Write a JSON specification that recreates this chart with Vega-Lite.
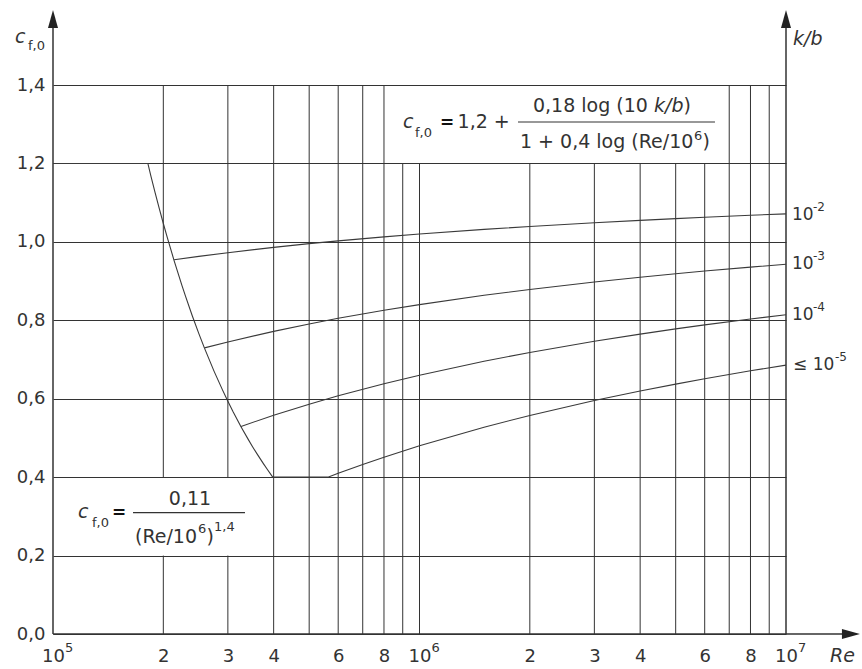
{
  "$schema": "https://vega.github.io/schema/vega-lite/v6.json",
  "width": 733,
  "height": 549,
  "autosize": {"type": "none"},
  "padding": {"left": 53, "top": 85, "right": 76, "bottom": 35},
  "background": "white",
  "config": {
    "view": {"stroke": null},
    "font": "DejaVu Sans",
    "text": {"font": "DejaVu Sans", "color": "#333"}
  },
  "datasets": {
    "vgrid": [
      {"Re": 200000, "lo": 0, "hi": 0.2}, {"Re": 200000, "lo": 0.4, "hi": 1.4},
      {"Re": 300000, "lo": 0, "hi": 0.2}, {"Re": 300000, "lo": 0.4, "hi": 1.4},
      {"Re": 400000, "lo": 0, "hi": 1.4}, {"Re": 500000, "lo": 0, "hi": 1.4},
      {"Re": 600000, "lo": 0, "hi": 1.4}, {"Re": 700000, "lo": 0, "hi": 1.4},
      {"Re": 800000, "lo": 0, "hi": 1.4}, {"Re": 900000, "lo": 0, "hi": 1.2},
      {"Re": 1000000, "lo": 0, "hi": 1.2}, {"Re": 2000000, "lo": 0, "hi": 1.2},
      {"Re": 3000000, "lo": 0, "hi": 1.2}, {"Re": 4000000, "lo": 0, "hi": 1.2},
      {"Re": 5000000, "lo": 0, "hi": 1.2}, {"Re": 6000000, "lo": 0, "hi": 1.2},
      {"Re": 7000000, "lo": 0, "hi": 1.4}, {"Re": 8000000, "lo": 0, "hi": 1.4},
      {"Re": 9000000, "lo": 0, "hi": 1.4}
    ],
    "axv": [
      {"Re": 100000, "lo": 0, "hi": 1.55},
      {"Re": 10000000, "lo": 0, "hi": 1.55}
    ],
    "axh": [{"Re": 100000, "Re2": 14490000, "cf": 0}],
    "arrowUp": [{"Re": 100000, "cf": 1.5657}, {"Re": 10000000, "cf": 1.5657}],
    "arrowRight": [{"Re": 14946000, "cf": 0}],
    "curves": [
      {"s": "base", "Re": 100000, "cf": 1.2},
      {"s": "base", "Re": 181500, "cf": 1.2},
      {"s": "base", "Re": 185000, "cf": 1.1678},
      {"s": "base", "Re": 190000, "cf": 1.125},
      {"s": "base", "Re": 195000, "cf": 1.0848},
      {"s": "base", "Re": 200000, "cf": 1.0468},
      {"s": "base", "Re": 205000, "cf": 1.0115},
      {"s": "base", "Re": 214000, "cf": 0.9523},
      {"s": "base", "Re": 225000, "cf": 0.8879},
      {"s": "base", "Re": 230000, "cf": 0.8609},
      {"s": "base", "Re": 240000, "cf": 0.811},
      {"s": "base", "Re": 250000, "cf": 0.766},
      {"s": "base", "Re": 259000, "cf": 0.7289},
      {"s": "base", "Re": 275000, "cf": 0.6704},
      {"s": "base", "Re": 290000, "cf": 0.6225},
      {"s": "base", "Re": 300000, "cf": 0.5935},
      {"s": "base", "Re": 310000, "cf": 0.5668},
      {"s": "base", "Re": 325800, "cf": 0.5286},
      {"s": "base", "Re": 340000, "cf": 0.4982},
      {"s": "base", "Re": 350000, "cf": 0.4783},
      {"s": "base", "Re": 360000, "cf": 0.4599},
      {"s": "base", "Re": 375000, "cf": 0.4344},
      {"s": "base", "Re": 385000, "cf": 0.4187},
      {"s": "base", "Re": 397700, "cf": 0.4},
      {"s": "base", "Re": 562300, "cf": 0.4},
      {"s": "k2", "Re": 214000, "cf": 0.9542},
      {"s": "k2", "Re": 250000, "cf": 0.9629},
      {"s": "k2", "Re": 300000, "cf": 0.9724},
      {"s": "k2", "Re": 400000, "cf": 0.9859},
      {"s": "k2", "Re": 500000, "cf": 0.9954},
      {"s": "k2", "Re": 600000, "cf": 1.0025},
      {"s": "k2", "Re": 800000, "cf": 1.0127},
      {"s": "k2", "Re": 1000000, "cf": 1.02},
      {"s": "k2", "Re": 1500000, "cf": 1.0318},
      {"s": "k2", "Re": 2000000, "cf": 1.0393},
      {"s": "k2", "Re": 3000000, "cf": 1.0488},
      {"s": "k2", "Re": 4000000, "cf": 1.0549},
      {"s": "k2", "Re": 5000000, "cf": 1.0593},
      {"s": "k2", "Re": 6000000, "cf": 1.0627},
      {"s": "k2", "Re": 8000000, "cf": 1.0678},
      {"s": "k2", "Re": 10000000, "cf": 1.0714},
      {"s": "k3", "Re": 259000, "cf": 0.7296},
      {"s": "k3", "Re": 300000, "cf": 0.7448},
      {"s": "k3", "Re": 400000, "cf": 0.7718},
      {"s": "k3", "Re": 500000, "cf": 0.7907},
      {"s": "k3", "Re": 600000, "cf": 0.805},
      {"s": "k3", "Re": 800000, "cf": 0.8255},
      {"s": "k3", "Re": 1000000, "cf": 0.84},
      {"s": "k3", "Re": 1500000, "cf": 0.8637},
      {"s": "k3", "Re": 2000000, "cf": 0.8787},
      {"s": "k3", "Re": 3000000, "cf": 0.8977},
      {"s": "k3", "Re": 4000000, "cf": 0.9099},
      {"s": "k3", "Re": 5000000, "cf": 0.9187},
      {"s": "k3", "Re": 6000000, "cf": 0.9255},
      {"s": "k3", "Re": 8000000, "cf": 0.9355},
      {"s": "k3", "Re": 10000000, "cf": 0.9429},
      {"s": "k4", "Re": 325800, "cf": 0.5294},
      {"s": "k4", "Re": 400000, "cf": 0.5578},
      {"s": "k4", "Re": 500000, "cf": 0.5861},
      {"s": "k4", "Re": 600000, "cf": 0.6074},
      {"s": "k4", "Re": 800000, "cf": 0.6382},
      {"s": "k4", "Re": 1000000, "cf": 0.66},
      {"s": "k4", "Re": 1500000, "cf": 0.6955},
      {"s": "k4", "Re": 2000000, "cf": 0.718},
      {"s": "k4", "Re": 3000000, "cf": 0.7465},
      {"s": "k4", "Re": 4000000, "cf": 0.7648},
      {"s": "k4", "Re": 5000000, "cf": 0.778},
      {"s": "k4", "Re": 6000000, "cf": 0.7882},
      {"s": "k4", "Re": 8000000, "cf": 0.8033},
      {"s": "k4", "Re": 10000000, "cf": 0.8143},
      {"s": "k5", "Re": 562300, "cf": 0.4},
      {"s": "k5", "Re": 600000, "cf": 0.4099},
      {"s": "k5", "Re": 700000, "cf": 0.4324},
      {"s": "k5", "Re": 800000, "cf": 0.4509},
      {"s": "k5", "Re": 1000000, "cf": 0.48},
      {"s": "k5", "Re": 1500000, "cf": 0.5274},
      {"s": "k5", "Re": 2000000, "cf": 0.5574},
      {"s": "k5", "Re": 3000000, "cf": 0.5954},
      {"s": "k5", "Re": 4000000, "cf": 0.6197},
      {"s": "k5", "Re": 5000000, "cf": 0.6373},
      {"s": "k5", "Re": 6000000, "cf": 0.6509},
      {"s": "k5", "Re": 8000000, "cf": 0.6711},
      {"s": "k5", "Re": 10000000, "cf": 0.6857}
    ],
    "bars": [
      {"Re": 1856700, "Re2": 6400600, "cf": 1.3057},
      {"Re": 165320, "Re2": 334080, "cf": 0.3093}
    ],
    "tMain": [
      {"Re": 1270000, "cf": 1.2904, "t": "1,2 +"},
      {"Re": 2039800, "cf": 1.3312, "t": "0,18 log (10"},
      {"Re": 5251800, "cf": 1.3312, "t": ")"},
      {"Re": 1880100, "cf": 1.2394, "t": "1 + 0,4 log (Re/10"},
      {"Re": 5919300, "cf": 1.2394, "t": ")"},
      {"Re": 167410, "cf": 0.2321, "t": "(Re/10"},
      {"Re": 262280, "cf": 0.2321, "t": ")"}
    ],
    "tItalic": [
      {"Re": 901400, "cf": 1.2904, "t": "c"},
      {"Re": 4363600, "cf": 1.3312, "t": "k/b"},
      {"Re": 117010, "cf": 0.2958, "t": "c"},
      {"Re": 78770, "cf": 1.5071, "t": "c"},
      {"Re": 10450000, "cf": 1.502, "t": "k/b"},
      {"Re": 13188000, "cf": -0.0714, "t": "Re"}
    ],
    "tSmall": [
      {"Re": 972100, "cf": 1.2674, "t": "f,0"},
      {"Re": 5611200, "cf": 1.2598, "t": "6"},
      {"Re": 127750, "cf": 0.2729, "t": "f,0"},
      {"Re": 248650, "cf": 0.2576, "t": "6"},
      {"Re": 274990, "cf": 0.2627, "t": "1,4"},
      {"Re": 85470, "cf": 1.4892, "t": "f,0"},
      {"Re": 107830, "cf": -0.0459, "t": "5"},
      {"Re": 1078300, "cf": -0.0459, "t": "6"},
      {"Re": 10783000, "cf": -0.0459, "t": "7"}
    ],
    "tCenter": [{"Re": 236460, "cf": 0.329, "t": "0,11"}],
    "tBold": [
      {"Re": 1137500, "cf": 1.2904, "t": "="},
      {"Re": 144880, "cf": 0.2958, "t": "="}
    ],
    "tRight": [
      {"Re": 10384000, "cf": 1.0685, "t": "10"},
      {"Re": 10384000, "cf": 0.9435, "t": "10"},
      {"Re": 10384000, "cf": 0.8135, "t": "10"},
      {"Re": 10450000, "cf": 0.686, "t": "≤ 10"}
    ],
    "tRightSup": [
      {"Re": 11849000, "cf": 1.0889, "t": "-2"},
      {"Re": 11849000, "cf": 0.9639, "t": "-3"},
      {"Re": 11849000, "cf": 0.8339, "t": "-4"},
      {"Re": 13605000, "cf": 0.7064, "t": "-5"}
    ]
  },
  "layer": [
    {
      "data": {"name": "vgrid"},
      "mark": {"type": "rule", "color": "#333", "strokeWidth": 1},
      "encoding": {
        "x": {
          "field": "Re", "type": "quantitative",
          "scale": {"type": "log", "domain": [100000, 10000000], "nice": false},
          "axis": {
            "values": [100000, 200000, 300000, 400000, 600000, 800000, 1000000, 2000000, 3000000, 4000000, 6000000, 8000000, 10000000],
            "labelExpr": "datum.value < 1000000 ? (datum.value == 100000 ? '10' : format(datum.value / 100000, '.0f')) : (datum.value < 10000000 ? (datum.value == 1000000 ? '10' : format(datum.value / 1000000, '.0f')) : '10')",
            "grid": false, "domain": false, "ticks": false, "tickSize": 0,
            "labelPadding": 13, "labelFontSize": 18, "labelColor": "#333",
            "labelFont": "DejaVu Sans", "labelOverlap": false, "labelFlush": false,
            "labelBound": false, "title": null
          }
        },
        "y": {
          "field": "lo", "type": "quantitative",
          "scale": {"domain": [0, 1.4], "nice": false, "zero": false},
          "axis": {
            "values": [0, 0.2, 0.4, 0.6, 0.8, 1.0, 1.2, 1.4],
            "labelExpr": "replace(format(datum.value, '.1f'), '.', ',')",
            "grid": true, "gridColor": "#333", "gridWidth": 1, "gridOpacity": 1,
            "domain": false, "ticks": false, "tickSize": 0,
            "labelPadding": 8, "labelFontSize": 18, "labelColor": "#333",
            "labelFont": "DejaVu Sans", "labelOverlap": false, "labelFlush": false,
            "labelBound": false, "title": null
          }
        },
        "y2": {"field": "hi"}
      }
    },
    {
      "data": {"name": "axv"},
      "mark": {"type": "rule", "color": "#333", "strokeWidth": 1.5},
      "encoding": {
        "x": {"field": "Re", "type": "quantitative"},
        "y": {"field": "lo", "type": "quantitative"},
        "y2": {"field": "hi"}
      }
    },
    {
      "data": {"name": "axh"},
      "mark": {"type": "rule", "color": "#333", "strokeWidth": 1.5},
      "encoding": {
        "x": {"field": "Re", "type": "quantitative"},
        "x2": {"field": "Re2"},
        "y": {"field": "cf", "type": "quantitative"}
      }
    },
    {
      "data": {"name": "arrowUp"},
      "mark": {"type": "point", "shape": "M0,-1L0.5,0.8L-0.5,0.8Z", "size": 400, "filled": true, "color": "#222", "opacity": 1},
      "encoding": {
        "x": {"field": "Re", "type": "quantitative"},
        "y": {"field": "cf", "type": "quantitative"}
      }
    },
    {
      "data": {"name": "arrowRight"},
      "mark": {"type": "point", "shape": "M1,0L-0.8,-0.5L-0.8,0.5Z", "size": 400, "filled": true, "color": "#222", "opacity": 1},
      "encoding": {
        "x": {"field": "Re", "type": "quantitative"},
        "y": {"field": "cf", "type": "quantitative"}
      }
    },
    {
      "data": {"name": "curves"},
      "mark": {"type": "line", "color": "#3a3a3a", "strokeWidth": 1.1, "interpolate": "linear"},
      "encoding": {
        "x": {"field": "Re", "type": "quantitative"},
        "y": {"field": "cf", "type": "quantitative"},
        "detail": {"field": "s", "type": "nominal"}
      }
    },
    {
      "data": {"name": "bars"},
      "mark": {"type": "rule", "color": "#333", "strokeWidth": 1.2},
      "encoding": {
        "x": {"field": "Re", "type": "quantitative"},
        "x2": {"field": "Re2"},
        "y": {"field": "cf", "type": "quantitative"}
      }
    },
    {
      "data": {"name": "tMain"},
      "mark": {"type": "text", "fontSize": 19, "align": "left", "baseline": "alphabetic"},
      "encoding": {
        "x": {"field": "Re", "type": "quantitative"},
        "y": {"field": "cf", "type": "quantitative"},
        "text": {"field": "t"}
      }
    },
    {
      "data": {"name": "tItalic"},
      "mark": {"type": "text", "fontSize": 19, "fontStyle": "italic", "align": "left", "baseline": "alphabetic"},
      "encoding": {
        "x": {"field": "Re", "type": "quantitative"},
        "y": {"field": "cf", "type": "quantitative"},
        "text": {"field": "t"}
      }
    },
    {
      "data": {"name": "tSmall"},
      "mark": {"type": "text", "fontSize": 13, "align": "left", "baseline": "alphabetic"},
      "encoding": {
        "x": {"field": "Re", "type": "quantitative"},
        "y": {"field": "cf", "type": "quantitative"},
        "text": {"field": "t"}
      }
    },
    {
      "data": {"name": "tCenter"},
      "mark": {"type": "text", "fontSize": 19, "align": "center", "baseline": "alphabetic"},
      "encoding": {
        "x": {"field": "Re", "type": "quantitative"},
        "y": {"field": "cf", "type": "quantitative"},
        "text": {"field": "t"}
      }
    },
    {
      "data": {"name": "tBold"},
      "mark": {"type": "text", "fontSize": 17, "fontWeight": "bold", "align": "left", "baseline": "alphabetic", "color": "#111"},
      "encoding": {
        "x": {"field": "Re", "type": "quantitative"},
        "y": {"field": "cf", "type": "quantitative"},
        "text": {"field": "t"}
      }
    },
    {
      "data": {"name": "tRight"},
      "mark": {"type": "text", "fontSize": 17, "align": "left", "baseline": "middle"},
      "encoding": {
        "x": {"field": "Re", "type": "quantitative"},
        "y": {"field": "cf", "type": "quantitative"},
        "text": {"field": "t"}
      }
    },
    {
      "data": {"name": "tRightSup"},
      "mark": {"type": "text", "fontSize": 12, "align": "left", "baseline": "middle"},
      "encoding": {
        "x": {"field": "Re", "type": "quantitative"},
        "y": {"field": "cf", "type": "quantitative"},
        "text": {"field": "t"}
      }
    }
  ]
}
